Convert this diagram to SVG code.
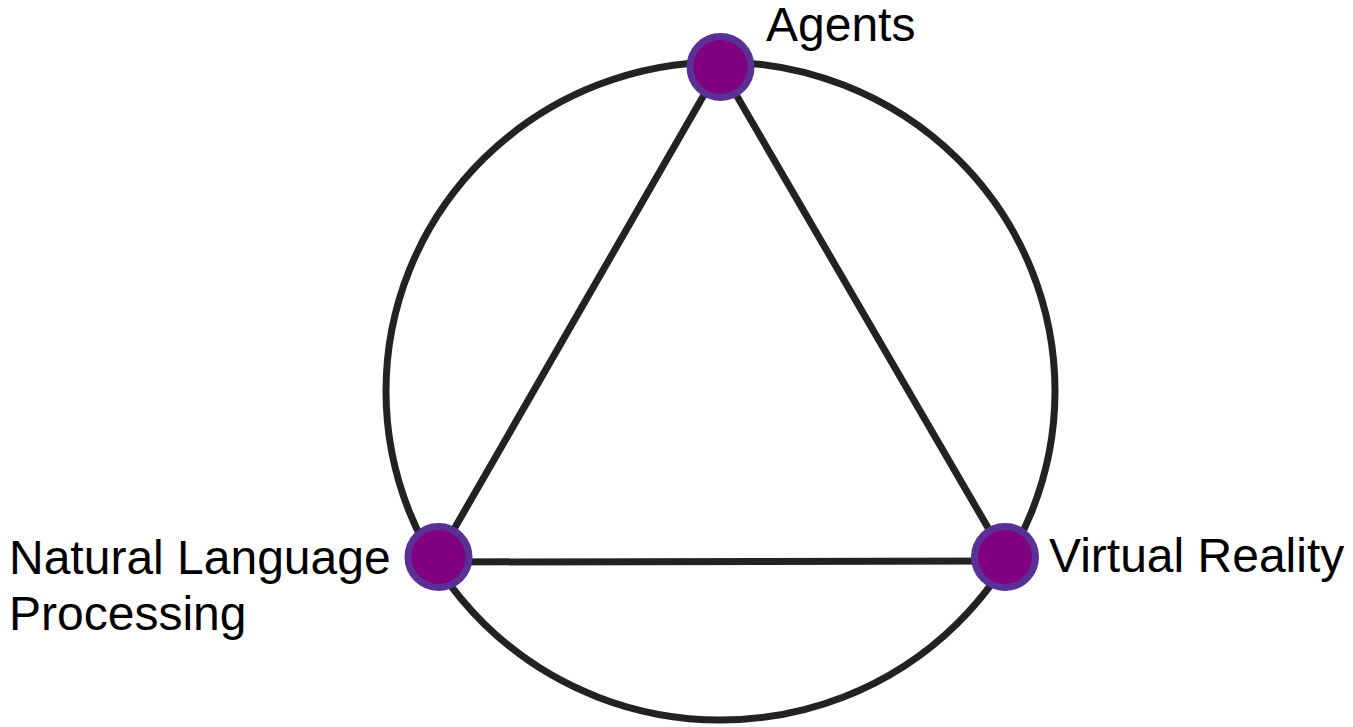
<svg xmlns="http://www.w3.org/2000/svg" width="1353" height="727" viewBox="0 0 1353 727">
<style>
.edge{stroke:#222;stroke-width:7;fill:none;stroke-linecap:round}
.node{fill:#800080;stroke:#5b3096;stroke-width:7}
.label{font-family:"Liberation Sans",Arial,sans-serif;font-size:48px;fill:#000}
</style>
<rect width="1353" height="727" fill="#fff"/>
<g id="connectors">
<ellipse class="edge" cx="720.5" cy="391" rx="334.5" ry="329"/>
<line class="edge" x1="720" y1="67" x2="438" y2="557"/>
<line class="edge" x1="720" y1="67" x2="1005" y2="557"/>
<line class="edge" x1="438" y1="562" x2="1005" y2="561"/>
</g>
<g id="agents">
<circle class="node" cx="720.5" cy="67" r="30.5"/>
<text class="label" x="766" y="41">Agents</text>
</g>
<g id="nlp">
<circle class="node" cx="438.5" cy="557" r="30.5"/>
<text class="label" x="9" y="574">Natural Language</text>
<text class="label" x="9" y="630">Processing</text>
</g>
<g id="vr">
<circle class="node" cx="1005" cy="557" r="30.5"/>
<text class="label" x="1049" y="572">Virtual Reality</text>
</g>
</svg>
